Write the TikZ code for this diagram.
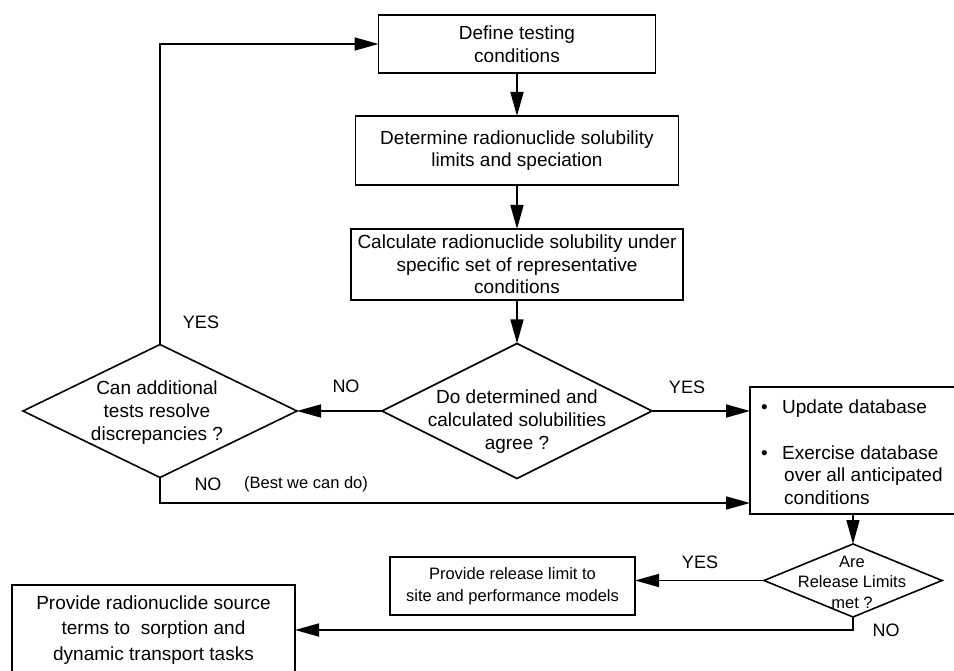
\documentclass[tikz,border=0pt]{standalone}
\usepackage{fontspec}
\setmainfont{Liberation Sans}
\usetikzlibrary{arrows.meta,shapes.geometric,calc}
\begin{document}
\begin{tikzpicture}[x=1pt,y=-1pt,
  box/.style={draw, line width=1.6pt, inner sep=2pt, outer sep=0pt, align=center,
    font=\fontsize{19}{22.5}\selectfont},
  dia/.style={draw, diamond, line width=1.6pt, inner sep=0pt, outer sep=0pt},
  txt/.style={align=center, inner sep=0pt, font=\fontsize{19}{23}\selectfont},
  smalltxt/.style={align=center, inner sep=0pt, font=\fontsize{16.5}{20.5}\selectfont},
  bl/.style={anchor=west, inner sep=0pt, text height=13pt, text depth=4pt,
    font=\fontsize{19}{22.5}\selectfont},
  lbl/.style={inner sep=0pt, font=\fontsize{18}{22}\selectfont},
  arr/.style={line width=1.6pt, -{Triangle[length=24pt,width=13pt]}}]
\clip (0,0) rectangle (954,671);
\fill[white] (0,0) rectangle (954,671);

% boxes
\node[box, minimum width=277pt, minimum height=58pt] (b1) at (517,44) {Define testing\\conditions};
\node[box, minimum width=323pt, minimum height=69pt] (b2) at (517,150.5) {Determine radionuclide solubility\\limits and speciation};
\node[box, minimum width=332pt, minimum height=71pt] (b3) at (517,264.5) {Calculate radionuclide solubility under\\specific set of representative\\conditions};

% diamonds
\node[dia, minimum width=270pt, minimum height=135pt] (d1) at (517,411) {};
\node[txt] (d1t) at (517,422) {Do determined and\\calculated solubilities\\agree ?};
\node[dia, minimum width=274pt, minimum height=133pt] (d2) at (160,411) {};
\node[txt] (d2t) at (157,413) {Can additional\\tests resolve\\discrepancies ?};

% database box
\node[box, minimum width=240pt, minimum height=127pt] (b4) at (870,450.5) {};
\node[bl] (u1) at (761,409) {\textbullet};
\node[bl] (u1t) at (782,409) {Update database};
\node[bl] (u2) at (761,455) {\textbullet};
\node[bl] (u2t) at (782,455) {Exercise database};
\node[bl] (u3t) at (784,477) {over all anticipated};
\node[bl] (u4t) at (784,500) {conditions};

% release limits diamond
\node[dia, minimum width=178pt, minimum height=73pt] (d3) at (853,580.5) {};
\node[smalltxt] (d3t) at (852,582) {Are\\Release Limits\\met ?};

\node[box, minimum width=245pt, minimum height=58pt, font=\fontsize{16.5}{22}\selectfont] (b5) at (512.5,586) {Provide release limit to\\site and performance models};
\node[box, minimum width=283pt, minimum height=90pt, font=\fontsize{19}{25.5}\selectfont] (b6) at (153.5,630) {Provide radionuclide source\\terms to\ \ sorption and\\dynamic transport tasks};

% connectors
\draw[arr] (b1) -- (b2);
\draw[arr] (b2) -- (b3);
\draw[arr] (b3) -- (d1);
\draw[arr] (d1.west) -- (d2.east);
\draw[arr] (d1.east) -- (d1.east -| b4.west);
\draw[arr] (d2.north) |- (b1.west);
\coordinate (b4in) at ($(b4.south west)+(0,-11)$);
\draw[arr] (d2.south) |- (b4in);
\draw[arr] (b4.south -| d3.north) -- (d3.north);
\draw[arr] (d3.west) -- (d3.west -| b5.east);
\draw[arr] (d3.south) |- (b6.east);

% labels
\node[lbl] (l1) at (201,322) {YES};
\node[lbl] (l2) at (346,386) {NO};
\node[lbl] (l3) at (687,387) {YES};
\node[lbl] (l4) at (208,484) {NO};
\node[lbl, font=\fontsize{16.5}{20}\selectfont] (l5) at (306,484) {(Best we can do)};
\node[lbl] (l6) at (700,562) {YES};
\node[lbl] (l7) at (886,630) {NO};
\end{tikzpicture}
\end{document}
